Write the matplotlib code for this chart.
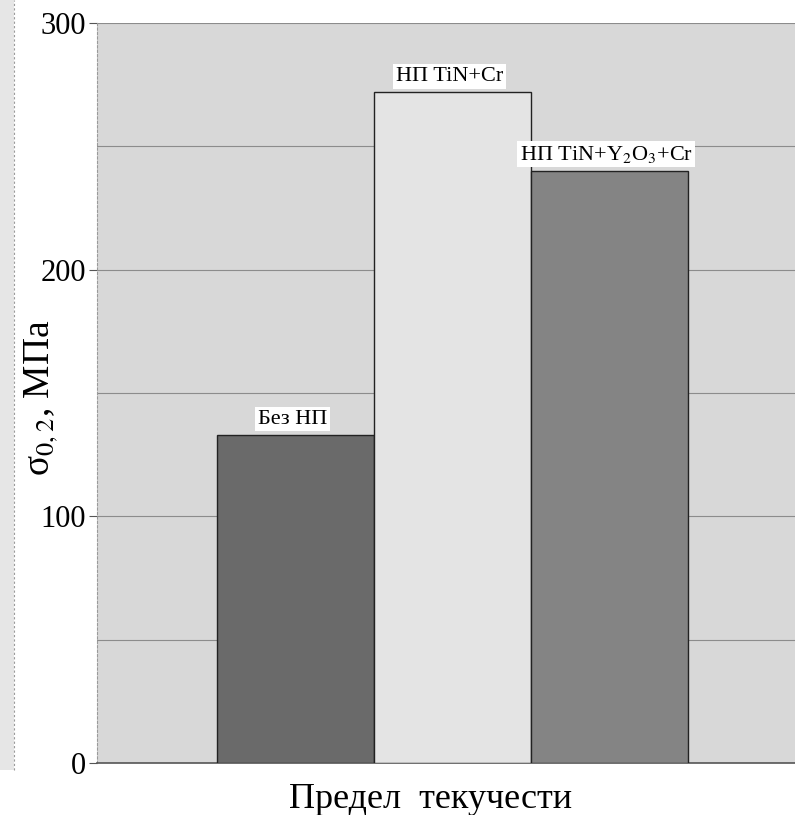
import matplotlib
matplotlib.use("Agg")
import matplotlib.pyplot as plt
from matplotlib.patches import Rectangle

plt.rcParams['font.family'] = ['Liberation Serif', 'DejaVu Serif']
plt.rcParams['mathtext.fontset'] = 'stix'

# Yield strength of the samples
categories = ['Без НП', 'НП TiN+Cr', 'НП TiN+Y$_2$O$_3$+Cr']
values = [133, 272, 240]
bar_colors = ['#6a6a6a', '#e4e4e4', '#848484']
y_ticks = [0, 100, 200, 300]
grid_levels = [50, 100, 150, 200, 250, 300]
x_label = 'Предел  текучести'
y_label = 'σ$_{0,2}$, МПа'

fig = plt.figure(figsize=(7.95, 8.15), dpi=100)
fig.patch.set_facecolor('white')

# faint strip at the left edge
fig.patches.append(Rectangle((0, 0.055), 0.017, 0.945, transform=fig.transFigure,
                             facecolor='#e6e6e6', edgecolor='none', zorder=0))
fig.add_artist(plt.Line2D([0.017, 0.017], [0.055, 1.0], transform=fig.transFigure,
                          color='#9a9a9a', lw=0.8, ls=(0, (2, 2))))

ax = fig.add_axes([97 / 795, 52 / 815, 698 / 795, 740 / 815])
ax.set_facecolor('#d8d8d8')

x = range(len(values))
ax.bar(x, values, width=1.0, color=bar_colors, edgecolor='#222222', linewidth=1.0, zorder=3)

for xi, v, lab in zip(x, values, categories):
    ax.text(xi - 0.02, v + 2.5, lab, ha='center', va='bottom', fontsize=16, color='black',
            zorder=5, bbox=dict(facecolor='white', edgecolor='none', pad=2.0))

ax.set_xlim(-1.264, 3.182)
ax.set_ylim(0, 300)

for g in grid_levels:
    ax.axhline(g, color='#8c8c8c', lw=0.8, zorder=1)

ax.set_yticks(y_ticks)
ax.set_yticklabels([str(t) for t in y_ticks], fontsize=22)
ax.tick_params(axis='y', length=6, width=0.8, color='#555555', pad=2)
ax.set_xticks([])

for side in ['top', 'right']:
    ax.spines[side].set_visible(False)
ax.spines['left'].set_color('#9a9a9a')
ax.spines['left'].set_linestyle((0, (2, 2)))
ax.spines['left'].set_linewidth(0.8)
ax.spines['bottom'].set_color('#555555')
ax.spines['bottom'].set_linewidth(1.2)

fig.text(41 / 795, 1 - 398 / 815, y_label, rotation=90, ha='center', va='center', fontsize=27)
fig.text(431 / 795, 1 - 800 / 815, x_label, ha='center', va='center', fontsize=26)

fig.savefig('out.png', dpi=100)
